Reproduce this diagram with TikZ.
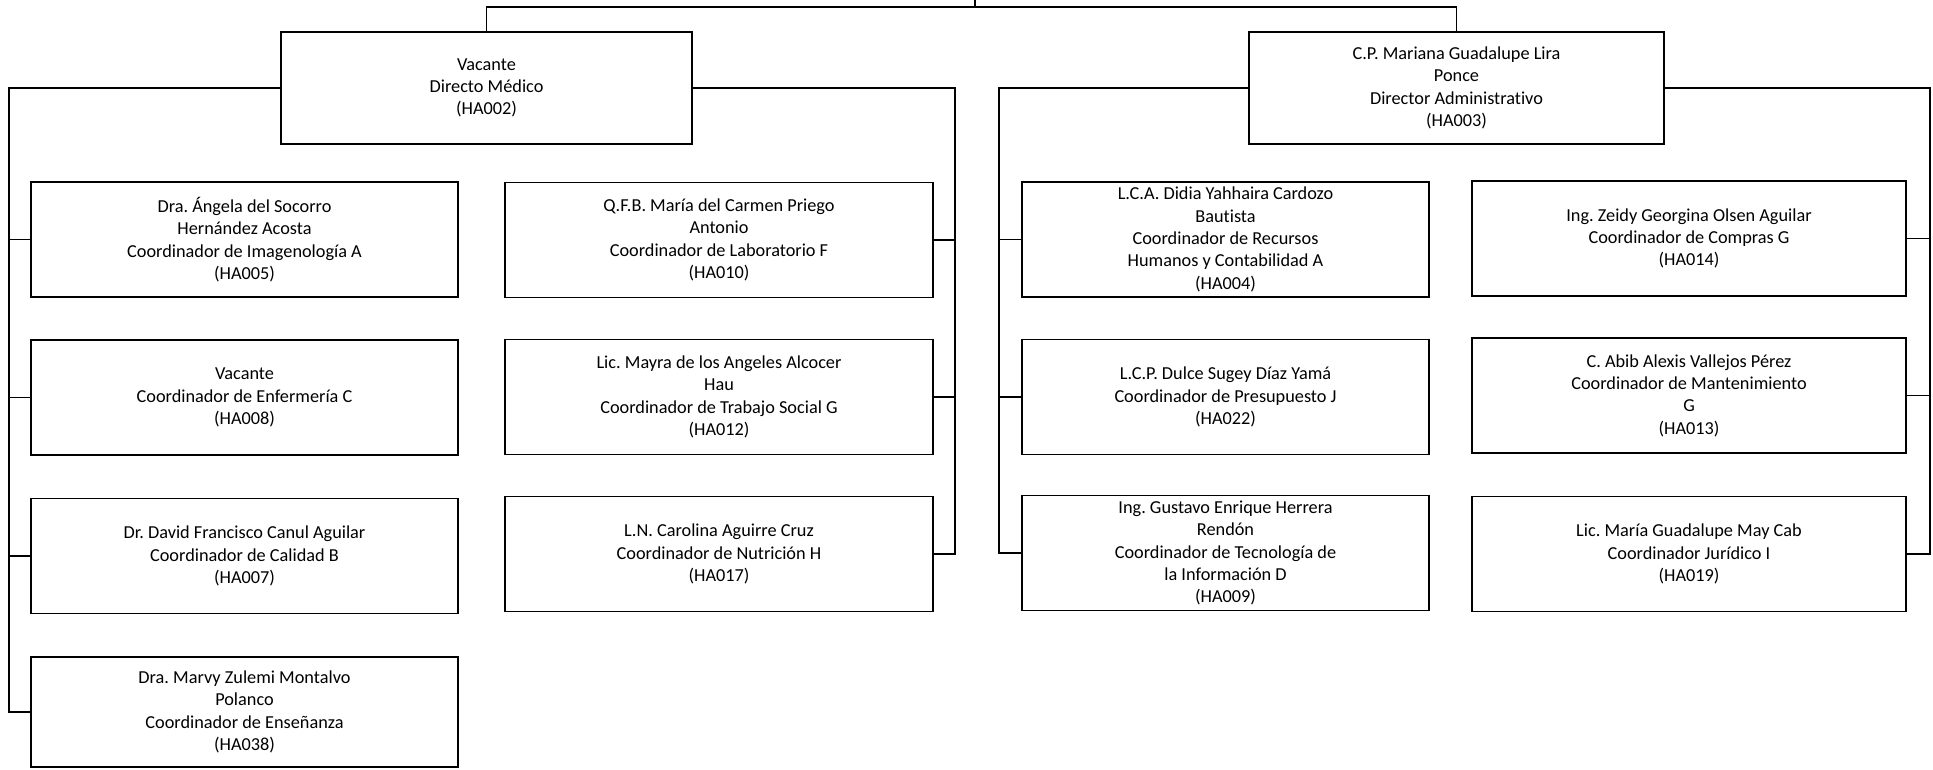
\documentclass[tikz,border=0pt]{standalone}
\usepackage{fontspec}
\setmainfont{Carlito}[Ligatures=NoCommon]
\usepackage{tikz}
\frenchspacing

\tikzset{
	puesto/.style={draw, line width=1.1pt, align=center, inner sep=0pt, minimum height=2.3cm, font=\fontsize{10.4}{12.7}\selectfont},
	enlace/.style={line width=1.1pt},
}

\begin{document}
\begin{tikzpicture}[x=0.02cm, y=-0.02cm]
			\useasboundingbox (0,0) rectangle (1933,769);
			
			\node[puesto, minimum width=8.22cm, minimum height=2.24cm] (dirmed) at (486.5,88) {Vacante\\Directo Médico\\(HA002)};
			\node[puesto, minimum width=8.30cm, minimum height=2.24cm] (diradm) at (1456.5,88) {C.P. Mariana Guadalupe Lira\\Ponce\\Director Administrativo\\(HA003)};
			
			\node[puesto, minimum width=8.54cm] (n005) at (244.5,239.5) {Dra. Ángela del Socorro\\Hernández Acosta\\Coordinador de Imagenología A\\(HA005)};
			\node[puesto, minimum width=8.54cm] (n008) at (244.5,397.5) {Vacante\\Coordinador de Enfermería C\\(HA008)};
			\node[puesto, minimum width=8.54cm] (n007) at (244.5,556) {Dr. David Francisco Canul Aguilar\\Coordinador de Calidad B\\(HA007)};
			\node[puesto, minimum width=8.54cm, minimum height=2.2cm] (n038) at (244.5,712) {Dra. Marvy Zulemi Montalvo\\Polanco\\Coordinador de Enseñanza\\(HA038)};
			
			\node[puesto, minimum width=8.56cm] (n010) at (719,240) {Q.F.B. María del Carmen Priego\\Antonio\\Coordinador de Laboratorio F\\(HA010)};
			\node[puesto, minimum width=8.56cm] (n012) at (719,397) {Lic. Mayra de los Angeles Alcocer\\Hau\\Coordinador de Trabajo Social G\\(HA012)};
			\node[puesto, minimum width=8.56cm] (n017) at (719,554) {L.N. Carolina Aguirre Cruz\\Coordinador de Nutrición H\\(HA017)};
			
			\node[puesto, minimum width=8.14cm] (n004) at (1225.5,239.5) {L.C.A. Didia Yahhaira Cardozo\\Bautista\\Coordinador de Recursos\\Humanos y Contabilidad A\\(HA004)};
			\node[puesto, minimum width=8.14cm] (n022) at (1225.5,397) {L.C.P. Dulce Sugey Díaz Yamá\\Coordinador de Presupuesto J\\(HA022)};
			\node[puesto, minimum width=8.14cm] (n009) at (1225.5,553) {Ing. Gustavo Enrique Herrera\\Rendón\\Coordinador de Tecnología de\\la Información D\\(HA009)};
			
			\node[puesto, minimum width=8.68cm] (n014) at (1689,238.5) {Ing. Zeidy Georgina Olsen Aguilar\\Coordinador de Compras G\\(HA014)};
			\node[puesto, minimum width=8.68cm] (n013) at (1689,395.5) {C. Abib Alexis Vallejos Pérez\\Coordinador de Mantenimiento\\G\\(HA013)};
			\node[puesto, minimum width=8.68cm] (n019) at (1689,554) {Lic. María Guadalupe May Cab\\Coordinador Jurídico I\\(HA019)};
			
			\coordinate (tope) at (975,0);
			\coordinate (cima) at (975,7);
			\coordinate (busA) at (9,0);
			\coordinate (busB) at (955,0);
			\coordinate (busC) at (999,0);
			\coordinate (busD) at (1930,0);
			
			\draw[enlace] (tope) -- (cima);
			\draw[enlace] (dirmed.north) |- (cima) -| (diradm.north);
			
			\draw[enlace] (dirmed.west) -| (busA |- n038.west) -- (n038.west);
			\foreach \n in {n005,n008,n007}
				\draw[enlace] (busA |- \n.west) -- (\n.west);
			
			\draw[enlace] (dirmed.east) -| (busB |- n017.east) -- (n017.east);
			\foreach \n in {n010,n012}
				\draw[enlace] (busB |- \n.east) -- (\n.east);
			
			\draw[enlace] (diradm.west) -| (busC |- n009.west) -- (n009.west);
			\foreach \n in {n004,n022}
				\draw[enlace] (busC |- \n.west) -- (\n.west);
			
			\draw[enlace] (diradm.east) -| (busD |- n019.east) -- (n019.east);
			\foreach \n in {n014,n013}
				\draw[enlace] (busD |- \n.east) -- (\n.east);
			
		\end{tikzpicture}
\end{document}
